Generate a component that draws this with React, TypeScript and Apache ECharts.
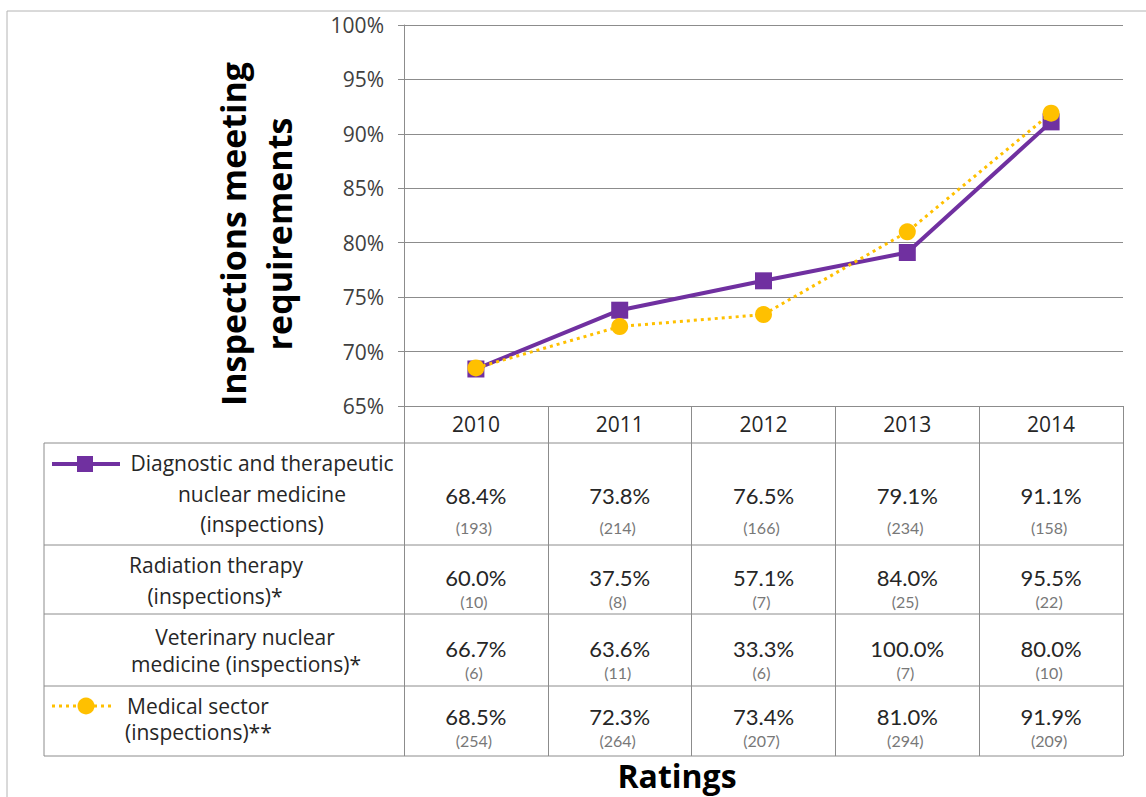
import React, { useEffect, useRef } from "react";
import * as echarts from "echarts";

const years = ["2010", "2011", "2012", "2013", "2014"];
const nuclearMedicine = [68.4, 73.8, 76.5, 79.1, 91.1];
const nuclearMedicineCounts = [193, 214, 166, 234, 158];
const radiationTherapy = [60.0, 37.5, 57.1, 84.0, 95.5];
const radiationTherapyCounts = [10, 8, 7, 25, 22];
const veterinary = [66.7, 63.6, 33.3, 100.0, 80.0];
const veterinaryCounts = [6, 11, 6, 7, 10];
const medicalSector = [68.5, 72.3, 73.4, 81.0, 91.9];
const medicalSectorCounts = [254, 264, 207, 294, 209];
const yMin = 65;
const yMax = 100;
const yStep = 5;

const FONT = "'Open Sans', Lato, sans-serif";
const NUM_FONT = "Lato, 'Open Sans', sans-serif";
const GRID_LEFT = 404;
const GRID_TOP = 25;
const GRID_W = 719;
const GRID_H = 381;
const TABLE_LEFT = 44;
const TABLE_RIGHT = GRID_LEFT + GRID_W;
const LINE_COLOR = "#8c8c8c";

const PURPLE = "#7030A0";
const YELLOW = "#FFC000";

function txt(text: string, x: number, y: number, size: number, color: string, align = "center", weight = "normal", family = FONT) {
  return {
    type: "text",
    x,
    y,
    silent: true,
    style: {
      text,
      fill: color,
      fontSize: size,
      fontFamily: family,
      fontWeight: weight,
      textAlign: align,
      textVerticalAlign: "middle",
      align,
      verticalAlign: "middle",
    },
  };
}

function hline(x1: number, x2: number, y: number) {
  return { type: "line", silent: true, shape: { x1, y1: y, x2, y2: y }, style: { stroke: LINE_COLOR, lineWidth: 1 } };
}
function vline(x: number, y1: number, y2: number) {
  return { type: "line", silent: true, shape: { x1: x, y1, x2: x, y2 }, style: { stroke: LINE_COLOR, lineWidth: 1 } };
}

export default function App() {
  const ref = useRef<HTMLDivElement>(null);
  useEffect(() => {
    if (!ref.current) return;
    const chart = echarts.init(ref.current, undefined, { renderer: "svg" });
    const colW = GRID_W / years.length;
    const colX = (i: number) => GRID_LEFT + colW * (i + 0.5);

    const rows = [
      { bottom: 545, pctY: 495, cntY: 527, values: nuclearMedicine, counts: nuclearMedicineCounts },
      { bottom: 614, pctY: 577, cntY: 601, values: radiationTherapy, counts: radiationTherapyCounts },
      { bottom: 686, pctY: 648, cntY: 672, values: veterinary, counts: veterinaryCounts },
      { bottom: 756, pctY: 716, cntY: 740, values: medicalSector, counts: medicalSectorCounts },
    ];

    const graphics: any[] = [];
    graphics.push({
      type: "rect",
      silent: true,
      shape: { x: 7, y: 11, width: 1160, height: 820 },
      style: { fill: "none", stroke: "#b4b4b4", lineWidth: 1 },
    });
    graphics.push(hline(TABLE_LEFT, TABLE_RIGHT, 443));
    rows.forEach((r) => graphics.push(hline(TABLE_LEFT, TABLE_RIGHT, r.bottom)));
    graphics.push(vline(TABLE_LEFT, 443, 756));

    rows.forEach((r) => {
      r.values.forEach((v, i) => {
        graphics.push(txt(v.toFixed(1) + "%", colX(i), r.pctY, 22, "#262626", "center", "normal", NUM_FONT));
        graphics.push(txt("(" + r.counts[i] + ")", colX(i) - 2, r.cntY, 16, "#787878", "center", "normal", NUM_FONT));
      });
    });

    graphics.push(txt("Diagnostic and therapeutic", 262, 463, 21, "#262626"));
    graphics.push(txt("nuclear medicine", 262, 494, 21, "#262626"));
    graphics.push(txt("(inspections)", 262, 524, 21, "#262626"));
    graphics.push(txt("Radiation therapy", 216, 565, 21, "#262626"));
    graphics.push(txt("(inspections)*", 215, 596, 21, "#262626"));
    graphics.push(txt("Veterinary nuclear", 245, 637, 21, "#262626"));
    graphics.push(txt("medicine (inspections)*", 246, 664, 21, "#262626"));
    graphics.push(txt("Medical sector", 127, 706, 21, "#262626", "left"));
    graphics.push(txt("(inspections)**", 125, 732, 21, "#262626", "left"));

    graphics.push({ type: "line", silent: true, shape: { x1: 52, y1: 464, x2: 120, y2: 464 }, style: { stroke: PURPLE, lineWidth: 4 } });
    graphics.push({ type: "rect", silent: true, shape: { x: 77, y: 456, width: 16, height: 16 }, style: { fill: PURPLE } });
    graphics.push({ type: "line", silent: true, shape: { x1: 52, y1: 706, x2: 112, y2: 706 }, style: { stroke: YELLOW, lineWidth: 3, lineDash: [3, 4] } });
    graphics.push({ type: "circle", silent: true, shape: { cx: 86, cy: 706, r: 8.5 }, style: { fill: YELLOW } });

    graphics.push({
      type: "text",
      x: 256,
      y: 234,
      rotation: Math.PI / 2,
      silent: true,
      style: {
        text: "Inspections meeting\nrequirements",
        fill: "#000",
        fontSize: 34,
        fontFamily: FONT,
        fontWeight: "bold",
        lineHeight: 46,
        textAlign: "center",
        textVerticalAlign: "middle",
        align: "center",
        verticalAlign: "middle",
      },
    });
    graphics.push(txt("Ratings", 677, 775, 32, "#000", "center", "bold"));

    chart.setOption({
      animation: false,
      backgroundColor: "#fff",
      grid: { left: GRID_LEFT, top: GRID_TOP, width: GRID_W, height: GRID_H, containLabel: false },
      xAxis: {
        type: "category",
        data: years,
        boundaryGap: true,
        axisLine: { show: true, lineStyle: { color: LINE_COLOR, width: 1 } },
        axisTick: { show: true, length: 350, lineStyle: { color: LINE_COLOR, width: 1 } },
        axisLabel: { fontSize: 21, color: "#262626", fontFamily: FONT, margin: 7 },
        splitLine: { show: false },
      },
      yAxis: {
        type: "value",
        min: yMin,
        max: yMax,
        interval: yStep,
        axisLine: { show: true, lineStyle: { color: LINE_COLOR, width: 1 } },
        axisTick: { show: true, length: 6, lineStyle: { color: LINE_COLOR } },
        axisLabel: { formatter: "{value}%", fontSize: 21, color: "#404040", fontFamily: FONT, margin: 20 },
        splitLine: { show: true, lineStyle: { color: LINE_COLOR, width: 1.2 } },
      },
      series: [
        {
          name: "Diagnostic and therapeutic nuclear medicine (inspections)",
          type: "line",
          data: nuclearMedicine,
          symbol: "rect",
          symbolSize: 17,
          itemStyle: { color: PURPLE },
          lineStyle: { color: PURPLE, width: 4 },
          z: 3,
        },
        {
          name: "Medical sector (inspections)**",
          type: "line",
          data: medicalSector,
          symbol: "circle",
          symbolSize: 17,
          itemStyle: { color: YELLOW },
          lineStyle: { color: YELLOW, width: 3, type: [3, 4] },
          z: 4,
        },
      ],
      graphic: { elements: graphics },
    });
    return () => chart.dispose();
  }, []);
  return <div ref={ref} style={{ position: "fixed", left: 0, top: 0, width: 1146, height: 797 }} />;
}
